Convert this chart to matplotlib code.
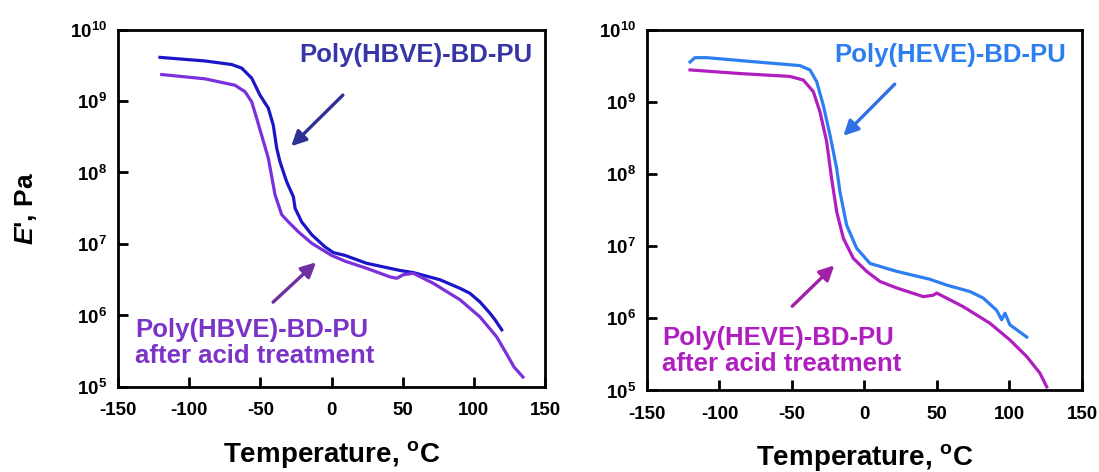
import numpy as np
import matplotlib
matplotlib.use("Agg")
import matplotlib.pyplot as plt

plt.rcParams['font.family'] = ['Liberation Sans', 'DejaVu Sans']
plt.rcParams['font.weight'] = 'bold'
plt.rcParams['mathtext.fontset'] = 'custom'
plt.rcParams['mathtext.rm'] = 'Liberation Sans:bold'
plt.rcParams['mathtext.bf'] = 'Liberation Sans:bold'
plt.rcParams['mathtext.it'] = 'Liberation Sans:italic:bold'

# ---- data (T in degC, log10 E' in Pa) ----
hbve_T = [-120.5, -88.9, -70.1, -63.1, -56.1, -50.2, -44.4, -40.9, -38.5, -36.2, -31.5, -26.8, -25.6, -21.0,
          -13.9, -4.6, 1.3, 9.5, 24.7, 48.1, 57.5, 76.2, 90.3, 97.3, 104.3, 111.4, 114.9, 119.6]
hbve_logE = [9.61, 9.56, 9.51, 9.46, 9.32, 9.08, 8.90, 8.66, 8.34, 8.15, 7.87, 7.66, 7.50, 7.31,
             7.13, 6.96, 6.88, 6.84, 6.73, 6.63, 6.60, 6.50, 6.38, 6.31, 6.19, 6.03, 5.94, 5.80]

hbve_acid_T = [-119.3, -88.9, -67.8, -60.8, -56.1, -52.6, -49.1, -44.4, -39.7, -35.0, -30.3, -23.3, -13.9,
               0.1, 9.5, 24.7, 41.1, 45.8, 50.5, 57.5, 71.5, 90.3, 104.3, 116.1, 125.4, 128.2, 134.5]
hbve_acid_logE = [9.37, 9.31, 9.22, 9.13, 8.99, 8.76, 8.52, 8.20, 7.69, 7.41, 7.31, 7.17, 7.01,
                  6.84, 6.76, 6.66, 6.54, 6.52, 6.57, 6.59, 6.45, 6.22, 5.98, 5.70, 5.38, 5.28, 5.14]

heve_T = [-120.3, -116.9, -108.8, -74.3, -44.5, -37.6, -33.0, -28.4, -23.8, -19.2, -16.9, -12.3, -5.4,
          3.8, 22.2, 45.2, 56.7, 72.8, 81.9, 91.2, 94.6, 96.9, 100.3, 111.9]
heve_logE = [9.55, 9.61, 9.61, 9.55, 9.50, 9.44, 9.28, 8.95, 8.54, 8.08, 7.75, 7.29, 6.97,
             6.76, 6.65, 6.54, 6.46, 6.37, 6.28, 6.11, 5.98, 6.07, 5.91, 5.74]

heve_acid_T = [-120.3, -85.9, -51.4, -42.2, -35.3, -30.7, -26.1, -22.7, -19.2, -14.6, -7.7, 1.5, 10.7,
               22.2, 40.6, 47.5, 49.8, 68.2, 86.6, 100.3, 111.9, 121.0, 125.7]
heve_acid_logE = [9.44, 9.39, 9.35, 9.30, 9.14, 8.86, 8.45, 7.94, 7.48, 7.11, 6.83, 6.65, 6.51,
                  6.42, 6.30, 6.32, 6.35, 6.16, 5.93, 5.70, 5.47, 5.24, 5.05]

x_ticks = [-150, -100, -50, 0, 50, 100, 150]
y_exps = [5, 6, 7, 8, 9, 10]

c_hbve, c_hbve_acid = '#1a16c8', '#7b30dc'
c_hbve_txt, c_hbve_acid_txt = '#3636a6', '#7a34c8'
c_heve, c_heve_acid = '#2d7ef0', '#b01ec0'

fig = plt.figure(figsize=(10.99, 4.72), dpi=100)
ax1 = fig.add_axes([0.1074, 0.1801, 0.3885, 0.7574])
ax2 = fig.add_axes([0.5887, 0.1727, 0.3958, 0.7648])


def style(ax):
    ax.set_yscale('log')
    ax.set_xlim(-150, 150)
    ax.set_ylim(1e5, 1e10)
    ax.set_xticks(x_ticks)
    ax.set_xticklabels([str(t) for t in x_ticks])
    ax.set_yticks([10.0 ** e for e in y_exps])
    ax.set_yticklabels(['$\\mathbf{10^{%d}}$' % e for e in y_exps])
    ax.minorticks_off()
    ax.tick_params(direction='in', length=7, width=2, labelsize=13.5)
    ax.tick_params(axis='x', pad=11)
    ax.tick_params(axis='y', pad=8)
    for s in ax.spines.values():
        s.set_linewidth(2)
    ax.set_xlabel('Temperature, $^{\\mathregular{o}}$C', fontsize=20, fontweight='bold', labelpad=14)


style(ax1)
style(ax2)

ax1.plot(hbve_T, 10 ** np.array(hbve_logE), color=c_hbve, lw=2.3)
ax1.plot(hbve_acid_T, 10 ** np.array(hbve_acid_logE), color=c_hbve_acid, lw=2.3)
ax2.plot(heve_T, 10 ** np.array(heve_logE), color=c_heve, lw=2.3)
ax2.plot(heve_acid_T, 10 ** np.array(heve_acid_logE), color=c_heve_acid, lw=2.3)

ax1.set_ylabel("$E$', Pa", fontsize=19, fontweight='bold', labelpad=22)

# annotations
ax1.text(141, 10 ** 9.64, 'Poly(HBVE)-BD-PU', color=c_hbve_txt, fontsize=18.5, ha='right', va='center')
ax1.annotate('', xy=(-29.7, 10 ** 8.34), xytext=(9.4, 10 ** 9.11),
             arrowprops=dict(arrowstyle='-|>', color='#2e3192', lw=2.4, mutation_scale=22))
ax1.text(-138, 10 ** 5.97, 'Poly(HBVE)-BD-PU\nafter acid treatment', color=c_hbve_acid_txt,
         fontsize=18.5, ha='left', va='top', linespacing=1.15)
ax1.annotate('', xy=(-9.4, 10 ** 6.77), xytext=(-42.5, 10 ** 6.16),
             arrowprops=dict(arrowstyle='-|>', color='#7030a0', lw=2.4, mutation_scale=22))

ax2.text(138.7, 10 ** 9.64, 'Poly(HEVE)-BD-PU', color=c_heve, fontsize=18.5, ha='right', va='center')
ax2.annotate('', xy=(-15.9, 10 ** 8.5), xytext=(22.2, 10 ** 9.27),
             arrowprops=dict(arrowstyle='-|>', color='#2f6fe8', lw=2.4, mutation_scale=22))
ax2.text(-139.4, 10 ** 5.9, 'Poly(HEVE)-BD-PU\nafter acid treatment', color=c_heve_acid,
         fontsize=18.5, ha='left', va='top', linespacing=1.15)
ax2.annotate('', xy=(-19.4, 10 ** 6.76), xytext=(-51.2, 10 ** 6.14),
             arrowprops=dict(arrowstyle='-|>', color='#a020a8', lw=2.4, mutation_scale=22))

fig.savefig('out.png', dpi=100)
